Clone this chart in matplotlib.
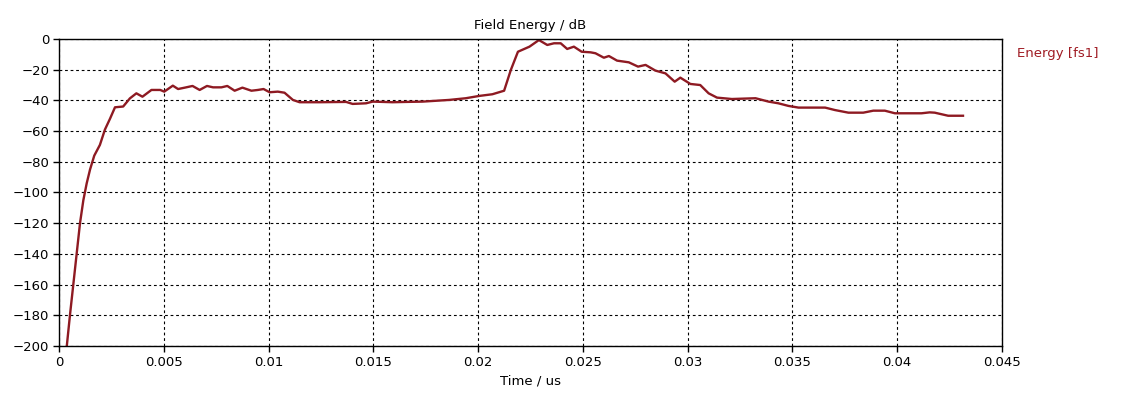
import matplotlib
matplotlib.use('Agg')
import matplotlib.pyplot as plt

# Field energy curve (time in us, energy in dB)
time_us = [0.00037, 0.00052, 0.00068, 0.00084, 0.00100, 0.00116, 0.00132,
           0.00148, 0.00168, 0.00195, 0.00219, 0.00243, 0.00267, 0.00306,
           0.00338, 0.00369, 0.00398, 0.00441, 0.00483, 0.00502, 0.00543,
           0.00568, 0.00600, 0.00637, 0.00671, 0.00706, 0.00735, 0.00775,
           0.00803, 0.00838, 0.00875, 0.00918, 0.00949, 0.00976, 0.01005,
           0.01044, 0.01076, 0.01116, 0.01148, 0.01243, 0.01370, 0.01401,
           0.01465, 0.01497, 0.01592, 0.01656, 0.01735, 0.01862, 0.01941,
           0.02005, 0.02068, 0.02124, 0.02156, 0.02190, 0.02245, 0.02290,
           0.02330, 0.02362, 0.02394, 0.02425, 0.02457, 0.02494, 0.02537,
           0.02560, 0.02600, 0.02624, 0.02663, 0.02719, 0.02763, 0.02799,
           0.02846, 0.02894, 0.02938, 0.02965, 0.03013, 0.03060, 0.03100,
           0.03140, 0.03211, 0.03324, 0.03386, 0.03433, 0.03481, 0.03529,
           0.03656, 0.03703, 0.03767, 0.03838, 0.03886, 0.03941, 0.03989,
           0.04116, 0.04155, 0.04179, 0.04243, 0.04314]
energy_db = [-200, -180, -160, -140, -120, -105, -94,
             -85, -76, -69, -59, -52, -44.5, -44,
             -38.7, -35.4, -37.6, -33.2, -33.2, -34.3, -30.4,
             -32.6, -31.7, -30.6, -33.2, -30.6, -31.5, -31.5,
             -30.6, -33.7, -31.7, -33.7, -33.2, -32.6, -34.7,
             -34.3, -35.0, -39.7, -41.2, -41.2, -41.0, -42.3,
             -41.9, -40.8, -41.2, -41.0, -40.8, -39.7, -38.6,
             -37.1, -36.0, -33.7, -20.2, -8.3, -5.0, -0.7,
             -3.9, -2.8, -2.8, -6.5, -5.0, -8.3, -8.7,
             -9.3, -12.2, -11.1, -14.1, -15.2, -18.0, -16.9,
             -20.6, -22.4, -27.8, -25.2, -29.3, -30.0, -35.4,
             -38.2, -39.1, -38.6, -40.8, -41.9, -43.6, -44.7,
             -44.7, -46.3, -48.0, -48.0, -46.7, -46.7, -48.4,
             -48.4, -47.8, -48.0, -50.0, -50.0]

x_ticks = [0, 0.005, 0.01, 0.015, 0.02, 0.025, 0.03, 0.035, 0.04, 0.045]
x_labels = ['0', '0.005', '0.01', '0.015', '0.02', '0.025', '0.03',
            '0.035', '0.04', '0.045']
y_ticks = list(range(-200, 1, 20))

LINE_COL = '#8e1a22'
plt.rcParams['font.family'] = ['DejaVu Sans']

fig = plt.figure(figsize=(11.29, 3.99), dpi=100)
ax = fig.add_axes([0.0523, 0.1328, 0.8352, 0.7695])

ax.plot(time_us, energy_db, color=LINE_COL, lw=1.7, solid_joinstyle='round')

ax.set_xlim(0, 0.045)
ax.set_ylim(-200, 0)
ax.set_xticks(x_ticks)
ax.set_xticklabels(x_labels)
ax.set_yticks(y_ticks)
ax.tick_params(direction='out', length=4, width=1, labelsize=9.5,
               colors='black', pad=3)
ax.grid(True, color='black', ls=(0, (2.5, 2.5)), lw=0.8)
for sp in ax.spines.values():
    sp.set_color('black')
    sp.set_linewidth(1.0)

ax.set_title('Field Energy / dB', fontsize=9.5, pad=7)
ax.set_xlabel('Time / us', fontsize=9.5, labelpad=4)

fig.text(0.901, 0.865, 'Energy [fs1]', color='#a01c24', fontsize=9.5,
         ha='left', va='center')

fig.savefig('out.png', dpi=100)
